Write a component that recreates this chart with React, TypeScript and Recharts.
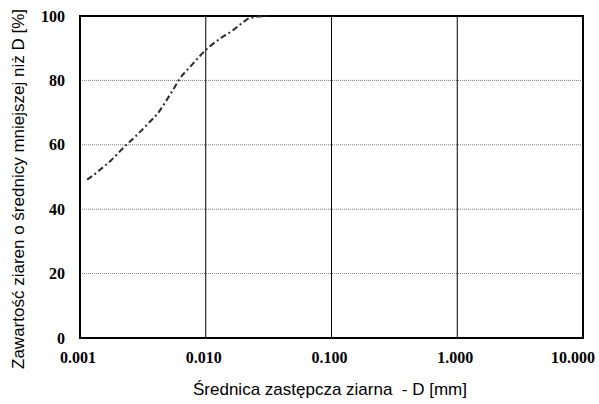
import React from "react"
import {
  LineChart,
  Line,
  XAxis,
  YAxis,
  CartesianGrid,
  ReferenceArea,
} from "recharts"

// grain size curve
const diameters = [
  0.00114, 0.00127, 0.00148, 0.00177, 0.00227, 0.00281, 0.00348, 0.00418,
  0.00487, 0.00566, 0.00621, 0.00747, 0.0103, 0.013, 0.0161, 0.0193, 0.0225,
  0.0305,
]
const passing = [
  49.2, 50.5, 52.6, 55.2, 59.5, 62.9, 66.6, 69.9, 73.8, 77.9, 80.5, 84.1, 89.9,
  93, 95.3, 97.7, 99.4, 100,
]
const xTicks = [0.001, 0.01, 0.1, 1, 10]
const yTicks = [0, 20, 40, 60, 80, 100]

const xLabel = "Średnica zastępcza ziarna  - D [mm]"
const yLabel = "Zawartość ziaren o średnicy mniejszej niż D [%]"

const data = diameters.map((d, i) => ({ d, p: passing[i] }))

const serif = "Liberation Serif, Times New Roman, serif"
const sans = "Liberation Sans, Arial, sans-serif"

const tickFont = {
  fontFamily: serif,
  fontWeight: 700,
  fontSize: 16,
  fill: "#000",
}

function XTick(props: any) {
  const { x, y, payload, index } = props
  const last = index === xTicks.length - 1
  return (
    <text
      x={last ? x + 12 : x - 2}
      y={y}
      dy="0.71em"
      textAnchor={last ? "end" : "middle"}
      fontFamily={serif}
      fontWeight={700}
      fontSize={16}
      fill="#000"
    >
      {Number(payload.value).toFixed(3)}
    </text>
  )
}

export default function App() {
  return (
    <div style={{ position: "absolute", left: 0, top: 0, background: "#fff" }}>
      <LineChart
        width={599}
        height={404}
        data={data}
        margin={{ top: 16, right: 16, left: 0, bottom: 0 }}
      >
        <CartesianGrid vertical={false} stroke="#777" strokeDasharray="1 1" />
        <CartesianGrid horizontal={false} stroke="#000" />
        <XAxis
          dataKey="d"
          type="number"
          scale="log"
          domain={[0.001, 10]}
          ticks={xTicks}
          allowDataOverflow
          height={66}
          axisLine={false}
          tickLine={false}
          tickSize={0}
          tickMargin={14}
          tick={<XTick />}
          interval={0}
          label={{
            content: () => (
              <text
                x={330}
                y={395}
                textAnchor="middle"
                xmlSpace="preserve"
                style={{ whiteSpace: "pre" }}
                fontFamily={sans}
                fontSize={17}
                fill="#000"
              >
                {xLabel}
              </text>
            ),
          }}
        />
        <YAxis
          type="number"
          domain={[0, 100]}
          ticks={yTicks}
          width={80}
          axisLine={false}
          tickLine={false}
          tickSize={0}
          tickMargin={15}
          tick={tickFont}
          interval={0}
          label={{
            content: () => (
              <text
                x={18}
                y={189}
                transform="rotate(-90, 18, 189)"
                textAnchor="middle"
                dominantBaseline="central"
                fontFamily={sans}
                fontSize={17}
                fill="#000"
              >
                {yLabel}
              </text>
            ),
          }}
        />
        <ReferenceArea
          x1={0.001}
          x2={10}
          y1={0}
          y2={100}
          fill="none"
          stroke="#000"
          strokeWidth={2}
          ifOverflow="visible"
        />
        <Line
          dataKey="p"
          type="monotone"
          stroke="#2a2a2a"
          strokeWidth={2}
          strokeDasharray="6 3 2 3"
          dot={false}
          isAnimationActive={false}
        />
      </LineChart>
    </div>
  )
}
